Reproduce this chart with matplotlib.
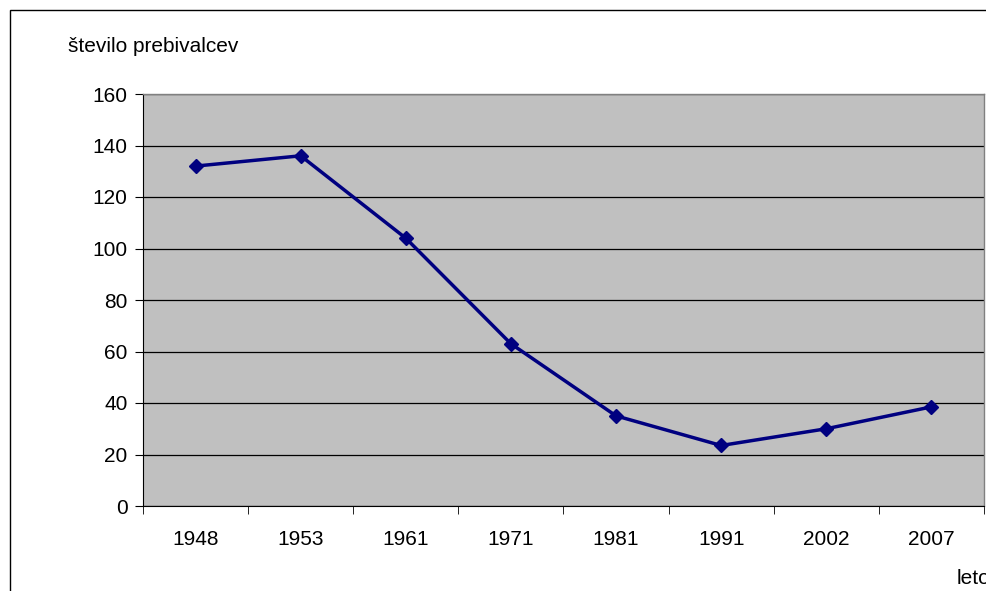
import matplotlib
matplotlib.use("Agg")
import matplotlib.pyplot as plt
import matplotlib.patches as patches
import numpy as np

plt.rcParams['font.family'] = ['Liberation Sans', 'DejaVu Sans']

years = ['1948', '1953', '1961', '1971', '1981', '1991', '2002', '2007']
population = [132, 136, 104, 63, 35, 23.5, 30, 38.5]

W, H = 987, 591
fig = plt.figure(figsize=(W / 100, H / 100), dpi=100)

# outer chart frame (runs off the right and bottom edge)
frame = patches.Rectangle((10 / W, -0.1), 1.2, 1 - 10 / H + 0.1, transform=fig.transFigure,
                          fill=False, edgecolor='black', linewidth=1.0)
fig.patches.append(frame)

ax = fig.add_axes([143 / W, 1 - 506 / H, 841 / W, 412 / H])
ax.set_facecolor('#C0C0C0')

x = np.arange(len(years))
ax.plot(x, population, color='#000080', linewidth=2.5, marker='D', markersize=7)

ax.set_xlim(-0.5, len(years) - 0.5)
ax.set_ylim(0, 160)
ax.set_yticks(np.arange(0, 161, 20))
ax.set_xticks(x)
ax.set_xticklabels(years)
ax.set_xticks(np.arange(-0.5, len(years), 1), minor=True)
ax.tick_params(axis='x', which='major', length=0, pad=17, labelsize=15)
ax.tick_params(axis='x', which='minor', length=6, direction='out', color='black')
ax.tick_params(axis='y', length=6, direction='out', labelsize=15, pad=5)

ax.grid(axis='y', color='black', linewidth=0.9)
ax.set_axisbelow(True)

for side in ['top', 'right']:
    ax.spines[side].set_color('#808080')
    ax.spines[side].set_linewidth(1.0)
ax.spines['left'].set_color('black')
ax.spines['bottom'].set_color('black')

fig.text(68 / W, 1 - 47 / H, 'število prebivalcev', fontsize=15, ha='left', va='center')
# the reference shows this label running off the right edge
fig.text(957 / W, 1 - 578 / H, 'leto', fontsize=15, ha='left', va='center')

fig.savefig('out.png', dpi=100)
